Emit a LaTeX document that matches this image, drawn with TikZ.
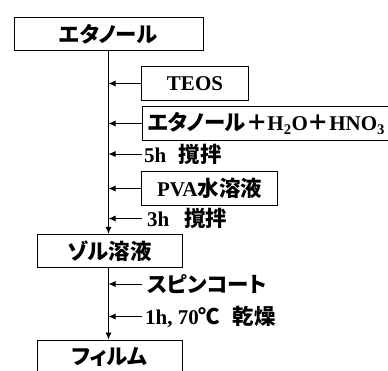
\documentclass[tikz,border=0pt]{standalone}
\usepackage{fontspec}
\setmainfont{Liberation Serif}
\newfontfamily\jp{Noto Sans CJK JP}[Scale=1.02, RawFeature=+palt,
  BoldFont={Noto Sans CJK JP Black}]
\usetikzlibrary{arrows.meta}

\begin{document}
\begin{tikzpicture}[
  x=1pt, y=-1pt,
  every node/.style={font=\fontsize{21}{24}\selectfont\bfseries},
  box/.style={draw, line width=1pt, minimum height=33.5pt, inner sep=0pt},
  cond/.style={anchor=west, inner xsep=2.5pt, inner ysep=0pt},
  feed/.style={line width=0.8pt, -{Latex[length=7pt,width=6pt]}}
]
\useasboundingbox (0,0) rectangle (388,370);
\clip (0,0) rectangle (388,370);

\node[box, minimum width=189pt] (ethanol) at (108.5,34) {\jp エタノール};
\node[box, minimum width=106.5pt] (teos) at (195,83.5) {TEOS};
\node[box, anchor=west, minimum width=260pt, text width=250pt, align=left,
      inner xsep=5pt] (mix) at (142,123.5)
  {{\jp エタノール＋}H\textsubscript{2}O{\jp ＋}HNO\textsubscript{3}};
\node[cond] (stir1) at (141.5,154) {5h\hspace{0.6em}{\jp 撹拌}};
\node[box, minimum width=135.5pt] (pva) at (209.5,188.5) {PVA{\jp 水溶液}};
\node[cond] (stir2) at (141.5,218.5) {\hspace{3pt}3h\hspace{0.7em}{\jp 撹拌}};
\node[box, minimum width=145pt] (sol) at (109.5,251) {\jp ゾル溶液};
\node[cond] (spin) at (141.5,284) {\hspace{3pt}{\jp スピンコート}};
\node[cond] (dry) at (141.5,316.5) {\hspace{1pt}1h, 70{\jp ℃}\hspace{0.6em}{\jp 乾燥}};
\node[box, minimum width=145pt, minimum height=34pt] (film) at (109.5,357) {\jp フィルム};

\coordinate (solin) at (ethanol.south |- sol.north);
\coordinate (filmin) at (ethanol.south |- film.north);
\draw[feed] (ethanol.south) -- (solin);
\draw[feed] (solin |- sol.south) -- (filmin);

\foreach \src in {teos, mix, stir1, pva, stir2}
  \draw[feed] (\src.west) -- (\src.west -| ethanol.south);
\foreach \src in {spin, dry}
  \draw[feed] (\src.west) -- (\src.west -| solin);
\end{tikzpicture}
\end{document}
